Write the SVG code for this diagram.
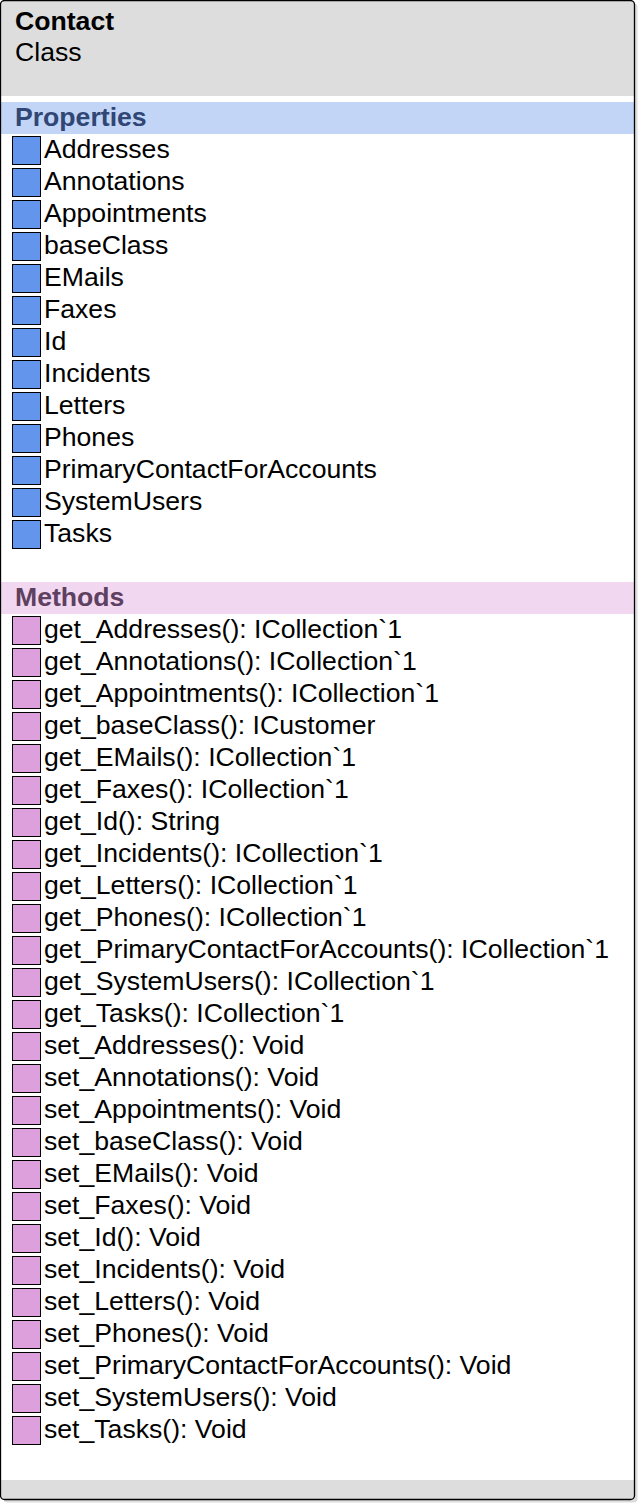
<svg xmlns="http://www.w3.org/2000/svg" width="641" height="1504" viewBox="0 0 641 1504">
<style>
text{font-family:"Liberation Sans",Arial,sans-serif;font-size:25px;fill:#000}
.b{font-weight:bold}
.ph{font-weight:bold;fill:#304674}
.mh{font-weight:bold;fill:#5e4060}
.p{fill:#6495ED;stroke:#000;stroke-width:1}
.m{fill:#DDA0DD;stroke:#000;stroke-width:1}
</style>
<defs>
<clipPath id="box"><rect x="0.5" y="0.5" width="634" height="1499" rx="4"/></clipPath>
</defs>
<g id="Contact">
<rect x="3.5" y="3.5" width="634" height="1499" rx="4" fill="#dcdcdc"/>
<rect x="0.5" y="0.5" width="634" height="1499" rx="4" fill="#fff"/>
<g clip-path="url(#box)">
<rect x="0" y="0" width="635" height="96" fill="#dddddd"/>
<rect x="0" y="102" width="635" height="32" fill="#c2d5f6"/>
<rect x="0" y="582" width="635" height="32" fill="#f1d8f0"/>
<rect x="0" y="1480" width="635" height="20" fill="#dddddd"/>
</g>
<rect x="0.5" y="0.5" width="634" height="1499" rx="4" fill="none" stroke="#000" stroke-width="1.3"/>
<g id="header" transform="translate(15,0) scale(1.065,1)">
<text class="b" x="0" y="30">Contact</text>
<text x="0" y="61.5">Class</text>
<text class="ph" x="0" y="126.5">Properties</text>
<text class="mh" x="0" y="606.5">Methods</text>
</g>
<g id="properties">
<rect class="p" x="12.5" y="136.5" width="28" height="28"/>
<rect class="p" x="12.5" y="168.5" width="28" height="28"/>
<rect class="p" x="12.5" y="200.5" width="28" height="28"/>
<rect class="p" x="12.5" y="232.5" width="28" height="28"/>
<rect class="p" x="12.5" y="264.5" width="28" height="28"/>
<rect class="p" x="12.5" y="296.5" width="28" height="28"/>
<rect class="p" x="12.5" y="328.5" width="28" height="28"/>
<rect class="p" x="12.5" y="360.5" width="28" height="28"/>
<rect class="p" x="12.5" y="392.5" width="28" height="28"/>
<rect class="p" x="12.5" y="424.5" width="28" height="28"/>
<rect class="p" x="12.5" y="456.5" width="28" height="28"/>
<rect class="p" x="12.5" y="488.5" width="28" height="28"/>
<rect class="p" x="12.5" y="520.5" width="28" height="28"/>
<g transform="translate(44,0) scale(1.065,1)">
<text x="0" y="158.5">Addresses</text>
<text x="0" y="190.5">Annotations</text>
<text x="0" y="222.5">Appointments</text>
<text x="0" y="254.5">baseClass</text>
<text x="0" y="286.5">EMails</text>
<text x="0" y="318.5">Faxes</text>
<text x="0" y="350.5">Id</text>
<text x="0" y="382.5">Incidents</text>
<text x="0" y="414.5">Letters</text>
<text x="0" y="446.5">Phones</text>
<text x="0" y="478.5">PrimaryContactForAccounts</text>
<text x="0" y="510.5">SystemUsers</text>
<text x="0" y="542.5">Tasks</text>
</g>
</g>
<g id="methods">
<rect class="m" x="12.5" y="616.5" width="28" height="28"/>
<rect class="m" x="12.5" y="648.5" width="28" height="28"/>
<rect class="m" x="12.5" y="680.5" width="28" height="28"/>
<rect class="m" x="12.5" y="712.5" width="28" height="28"/>
<rect class="m" x="12.5" y="744.5" width="28" height="28"/>
<rect class="m" x="12.5" y="776.5" width="28" height="28"/>
<rect class="m" x="12.5" y="808.5" width="28" height="28"/>
<rect class="m" x="12.5" y="840.5" width="28" height="28"/>
<rect class="m" x="12.5" y="872.5" width="28" height="28"/>
<rect class="m" x="12.5" y="904.5" width="28" height="28"/>
<rect class="m" x="12.5" y="936.5" width="28" height="28"/>
<rect class="m" x="12.5" y="968.5" width="28" height="28"/>
<rect class="m" x="12.5" y="1000.5" width="28" height="28"/>
<rect class="m" x="12.5" y="1032.5" width="28" height="28"/>
<rect class="m" x="12.5" y="1064.5" width="28" height="28"/>
<rect class="m" x="12.5" y="1096.5" width="28" height="28"/>
<rect class="m" x="12.5" y="1128.5" width="28" height="28"/>
<rect class="m" x="12.5" y="1160.5" width="28" height="28"/>
<rect class="m" x="12.5" y="1192.5" width="28" height="28"/>
<rect class="m" x="12.5" y="1224.5" width="28" height="28"/>
<rect class="m" x="12.5" y="1256.5" width="28" height="28"/>
<rect class="m" x="12.5" y="1288.5" width="28" height="28"/>
<rect class="m" x="12.5" y="1320.5" width="28" height="28"/>
<rect class="m" x="12.5" y="1352.5" width="28" height="28"/>
<rect class="m" x="12.5" y="1384.5" width="28" height="28"/>
<rect class="m" x="12.5" y="1416.5" width="28" height="28"/>
<g transform="translate(44,0) scale(1.065,1)">
<text x="0" y="638.5">get_Addresses(): ICollection`1</text>
<text x="0" y="670.5">get_Annotations(): ICollection`1</text>
<text x="0" y="702.5">get_Appointments(): ICollection`1</text>
<text x="0" y="734.5">get_baseClass(): ICustomer</text>
<text x="0" y="766.5">get_EMails(): ICollection`1</text>
<text x="0" y="798.5">get_Faxes(): ICollection`1</text>
<text x="0" y="830.5">get_Id(): String</text>
<text x="0" y="862.5">get_Incidents(): ICollection`1</text>
<text x="0" y="894.5">get_Letters(): ICollection`1</text>
<text x="0" y="926.5">get_Phones(): ICollection`1</text>
<text x="0" y="958.5">get_PrimaryContactForAccounts(): ICollection`1</text>
<text x="0" y="990.5">get_SystemUsers(): ICollection`1</text>
<text x="0" y="1022.5">get_Tasks(): ICollection`1</text>
<text x="0" y="1054.5">set_Addresses(): Void</text>
<text x="0" y="1086.5">set_Annotations(): Void</text>
<text x="0" y="1118.5">set_Appointments(): Void</text>
<text x="0" y="1150.5">set_baseClass(): Void</text>
<text x="0" y="1182.5">set_EMails(): Void</text>
<text x="0" y="1214.5">set_Faxes(): Void</text>
<text x="0" y="1246.5">set_Id(): Void</text>
<text x="0" y="1278.5">set_Incidents(): Void</text>
<text x="0" y="1310.5">set_Letters(): Void</text>
<text x="0" y="1342.5">set_Phones(): Void</text>
<text x="0" y="1374.5">set_PrimaryContactForAccounts(): Void</text>
<text x="0" y="1406.5">set_SystemUsers(): Void</text>
<text x="0" y="1438.5">set_Tasks(): Void</text>
</g>
</g>
</g>
<g id="connectors"/>
</svg>
